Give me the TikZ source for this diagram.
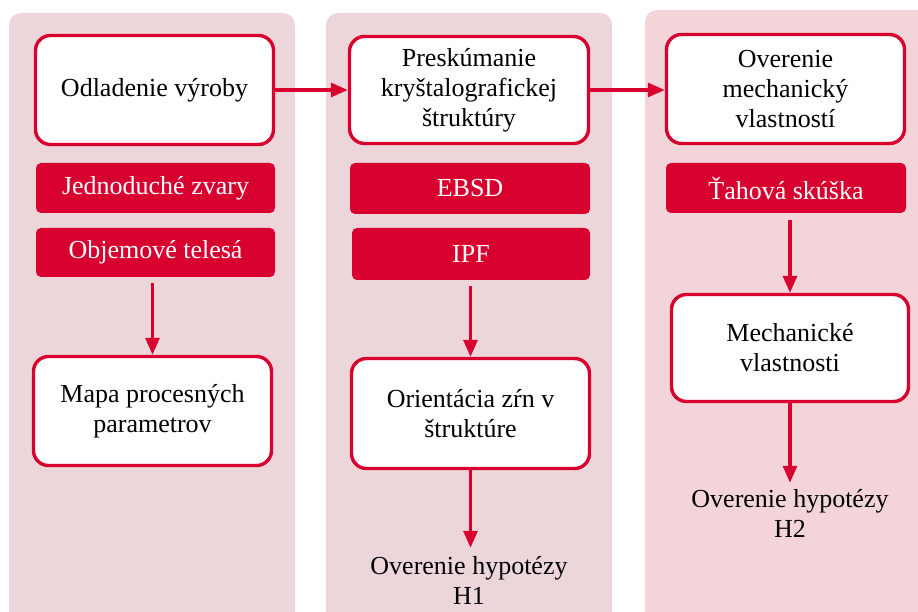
\documentclass[tikz,border=0pt]{standalone}
\usepackage{fontspec}
\setmainfont{Liberation Serif}
\usetikzlibrary{arrows.meta,calc}
\definecolor{accent}{RGB}{216,0,46}
\definecolor{panelA}{RGB}{237,214,217}
\definecolor{panelB}{RGB}{243,212,216}
\tikzset{
  panel/.style={fill=panelA, draw=none, rounded corners=12pt},
  whitebox/.style={draw=accent, line width=3.4pt, fill=white, rounded corners=15pt,
    align=center, font=\fontsize{26}{30}\selectfont, inner sep=0pt},
  redbar/.style={fill=accent, draw=none, rounded corners=5pt, text=white,
    align=center, font=\fontsize{26}{30}\selectfont, inner sep=0pt},
  plaintext/.style={align=center, font=\fontsize{26}{30}\selectfont, inner sep=0pt},
  conn/.style={draw=accent, line width=3.2pt, -{Triangle[length=17pt,width=14pt]}},
}
\begin{document}
\begin{tikzpicture}[x=1pt,y=-1pt]
\useasboundingbox (0,0) rectangle (918,612);
\begin{scope}
\clip (0,0) rectangle (918,612);
\path[panel] (9,13) rectangle (295,630);
\path[panel] (326,13) rectangle (612,630);
\path[panel, fill=panelB] (645,10) rectangle (940,630);
\end{scope}
% column 1
\node[whitebox, minimum width=238, minimum height=109] (b1) at (154.5,90) {Odladenie výroby};
\node[redbar, minimum width=239, minimum height=50] (r1) at (155.5,188) {Jednoduché zvary};
\node[redbar, minimum width=239, minimum height=49] (r2) at (155.5,252.5) {Objemové telesá};
\node[whitebox, minimum width=238, minimum height=109] (m1) at (152.5,411) {Mapa procesných\\parametrov};
% column 2
\node[whitebox, minimum width=239, minimum height=107] (b2) at (469,90) {Preskúmanie\\kryštalografickej\\štruktúry};
\node[redbar, minimum width=240, minimum height=51] (e2) at (470,188.5) {EBSD};
\node[redbar, minimum width=238, minimum height=52] (i2) at (471,254) {IPF};
\node[whitebox, minimum width=238, minimum height=110] (o2) at (470.5,413.5) {Orientácia zŕn v\\štruktúre};
\node[plaintext] (h1) at (469,580) {Overenie hypotézy\\H1};
% column 3
\node[whitebox, minimum width=238, minimum height=109] (b3) at (785.5,89) {Overenie\\mechanický\\vlastností};
\node[redbar, minimum width=240, minimum height=50] (t3) at (786,188) {Ťahová skúška};
\node[whitebox, minimum width=237, minimum height=107] (m3) at (790,348) {Mechanické\\vlastnosti};
\node[plaintext] (h2) at (790,513) {Overenie hypotézy\\H2};
% connectors
\draw[conn] (b1.east) -- (b1.east -| b2.west);
\draw[conn] (b2.east) -- (b2.east -| b3.west);
\draw[conn] ($(m1.north |- r2.south)+(0,6)$) -- (m1.north);
\draw[conn] ($(o2.north |- i2.south)+(0,6)$) -- (o2.north);
\draw[conn] (o2.south) -- ($(o2.south |- h1.north)+(0,-8)$);
\draw[conn] ($(m3.north |- t3.south)+(0,7)$) -- (m3.north);
\draw[conn] (m3.south) -- ($(m3.south |- h2.north)+(0,-6)$);
\end{tikzpicture}
\end{document}
